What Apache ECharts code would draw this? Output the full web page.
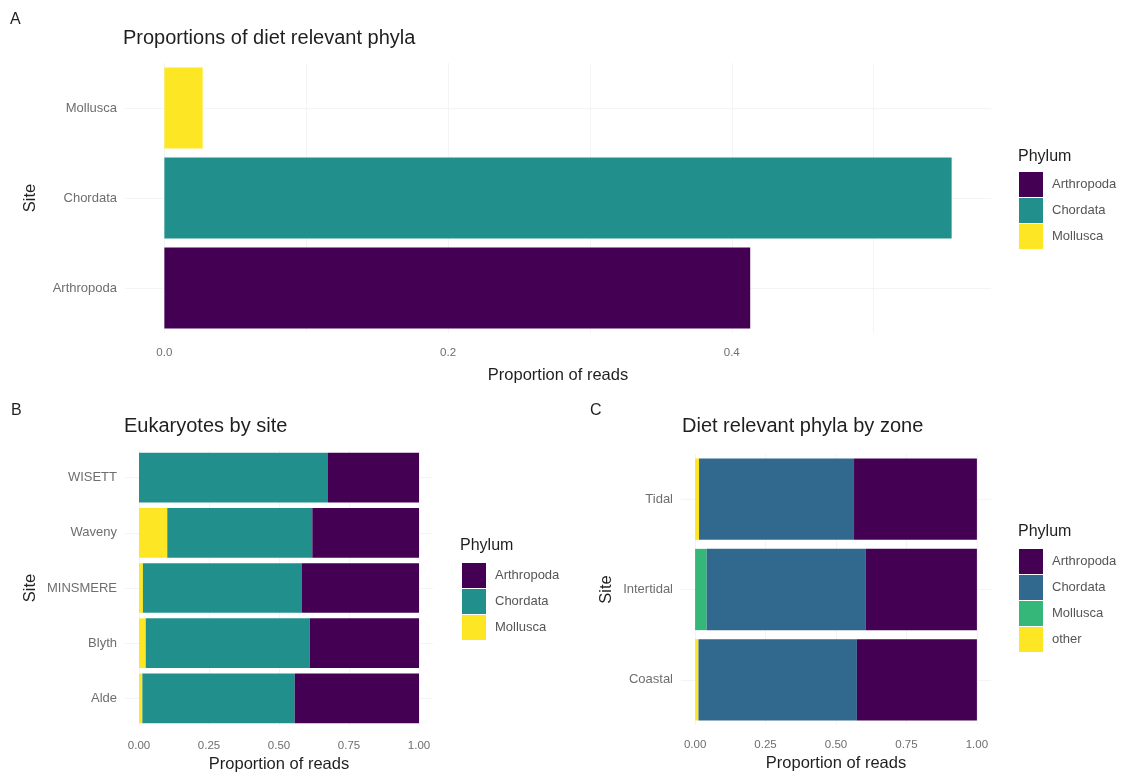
<!DOCTYPE html>
<html>
<head>
<meta charset="utf-8">
<title>Diet relevant phyla</title>
<script src="https://cdn.jsdelivr.net/npm/echarts@6/dist/echarts.min.js"></script>
<style>
  html, body { margin: 0; padding: 0; background: #ffffff; }
  #chart { width: 1130px; height: 778px; }
</style>
</head>
<body>
<div id="chart"></div>
<script>
// Panel A: overall proportion of reads per diet relevant phylum
const phylaA = ['Arthropoda', 'Chordata', 'Mollusca'];
const propA = [0.413, 0.555, 0.027];
const ticksA = [0, 0.2, 0.4];
const gridValsA = [0, 0.1, 0.2, 0.3, 0.4, 0.5];

// Panel B: eukaryote reads by site (proportions per site)
const sitesB = ['Alde', 'Blyth', 'MINSMERE', 'Waveny', 'WISETT'];
const molluscaB = [0.012, 0.024, 0.014, 0.101, 0.000];
const chordataB = [0.544, 0.586, 0.568, 0.518, 0.675];
const arthropodaB = [0.444, 0.390, 0.418, 0.381, 0.325];

// Panel C: diet relevant phyla by zone
const zonesC = ['Coastal', 'Intertidal', 'Tidal'];
const otherC = [0.012, 0.000, 0.014];
const molluscaC = [0.000, 0.041, 0.000];
const chordataC = [0.562, 0.565, 0.550];
const arthropodaC = [0.426, 0.394, 0.436];

const ticksFill = [0, 0.25, 0.5, 0.75, 1];

// viridis palettes (3 and 4 levels)
const vir3 = { Arthropoda: '#440154', Chordata: '#21908C', Mollusca: '#FDE725' };
const vir4 = { Arthropoda: '#440154', Chordata: '#31688E', Mollusca: '#35B779', other: '#FDE725' };

const FONT = 'Liberation Sans, Arial, Helvetica, sans-serif';
const tickColor = '#6e6e6e';
const textDark = '#1f1f1f';
const gridColor = '#f4f4f4';

const maxA = Math.max(...propA);

function valueAxis(gridIndex, min, max, labels, grids, digits, name, nameGap) {
  return {
    gridIndex, type: 'value', min, max,
    name, nameLocation: 'middle', nameGap,
    nameTextStyle: { fontFamily: FONT, fontSize: 16.5, color: textDark },
    axisLine: { show: false },
    axisTick: { show: false, customValues: grids },
    axisLabel: {
      customValues: labels, margin: 14,
      fontFamily: FONT, fontSize: 11.5, color: tickColor,
      formatter: v => Number(v).toFixed(digits)
    },
    splitLine: { show: true, lineStyle: { color: gridColor, width: 1 } }
  };
}

function catAxis(gridIndex, cats, nameGap) {
  return {
    gridIndex, type: 'category', data: cats,
    name: 'Site', nameLocation: 'middle', nameGap, nameRotate: 90,
    nameTextStyle: { fontFamily: FONT, fontSize: 16.5, color: textDark },
    axisLine: { show: false },
    axisTick: { show: false },
    axisLabel: { margin: 8, fontFamily: FONT, fontSize: 13, color: tickColor },
    splitLine: { show: true, alignWithLabel: true, lineStyle: { color: gridColor, width: 1 } }
  };
}

function barSeries(name, xi, yi, stack, data, color) {
  return {
    name, type: 'bar', xAxisIndex: xi, yAxisIndex: yi, stack,
    data, barCategoryGap: '10%',
    itemStyle: { color },
    emphasis: { disabled: true },
    silent: true
  };
}

// panel A: one series per phylum, each filling only its own row
const seriesA = phylaA.map((p, i) =>
  barSeries(p, 0, 0, 'A', propA.map((v, j) => (j === i ? v : '-')), vir3[p]));

const seriesB = [
  barSeries('Mollusca', 1, 1, 'B', molluscaB, vir3.Mollusca),
  barSeries('Chordata', 1, 1, 'B', chordataB, vir3.Chordata),
  barSeries('Arthropoda', 1, 1, 'B', arthropodaB, vir3.Arthropoda)
];

const seriesC = [
  barSeries('other', 2, 2, 'C', otherC, vir4.other),
  barSeries('Mollusca', 2, 2, 'C', molluscaC, vir4.Mollusca),
  barSeries('Chordata', 2, 2, 'C', chordataC, vir4.Chordata),
  barSeries('Arthropoda', 2, 2, 'C', arthropodaC, vir4.Arthropoda)
];

function legend(left, top, names, pal) {
  return {
    orient: 'vertical', left, top, padding: 0,
    itemWidth: 24, itemHeight: 25, itemGap: 1, icon: 'rect',
    selectedMode: false,
    textStyle: { fontFamily: FONT, fontSize: 13, color: '#555555', padding: [0, 0, 0, 4] },
    data: names.map(n => ({ name: n, icon: 'rect', itemStyle: { color: pal[n] } }))
  };
}

function titleText(text, left, top, size, weight) {
  return {
    text, left, top, padding: 0,
    textStyle: { fontFamily: FONT, fontSize: size, fontWeight: weight || 'normal', color: textDark }
  };
}

const option = {
  backgroundColor: '#ffffff',
  animation: false,
  title: [
    titleText('A', 10, 12, 16),
    titleText('Proportions of diet relevant phyla', 123, 28, 20),
    titleText('B', 11, 403, 16),
    titleText('Eukaryotes by site', 124, 416, 20),
    titleText('C', 590, 403, 16),
    titleText('Diet relevant phyla by zone', 682, 416, 20),
    titleText('Phylum', 1018, 149, 16),
    titleText('Phylum', 460, 538, 16),
    titleText('Phylum', 1018, 524, 16)
  ],
  legend: [
    legend(1019, 172, ['Arthropoda', 'Chordata', 'Mollusca'], vir3),
    legend(462, 563, ['Arthropoda', 'Chordata', 'Mollusca'], vir3),
    legend(1019, 549, ['Arthropoda', 'Chordata', 'Mollusca', 'other'], vir4)
  ],
  grid: [
    { left: 125, top: 63, width: 866, height: 270 },
    { left: 125, top: 450, width: 308, height: 276 },
    { left: 681, top: 454, width: 310, height: 271 }
  ],
  xAxis: [
    valueAxis(0, -0.05 * maxA, 1.05 * maxA, ticksA, gridValsA, 1, 'Proportion of reads', 34),
    valueAxis(1, -0.05, 1.05, ticksFill, ticksFill, 2, 'Proportion of reads', 30),
    valueAxis(2, -0.05, 1.05, ticksFill, ticksFill, 2, 'Proportion of reads', 30)
  ],
  yAxis: [
    catAxis(0, phylaA, 86),
    catAxis(1, sitesB, 86),
    catAxis(2, zonesC, 66)
  ],
  series: [...seriesA, ...seriesB, ...seriesC]
};

const chart = echarts.init(document.getElementById('chart'), null, { renderer: 'canvas' });
chart.setOption(option);
</script>
</body>
</html>
